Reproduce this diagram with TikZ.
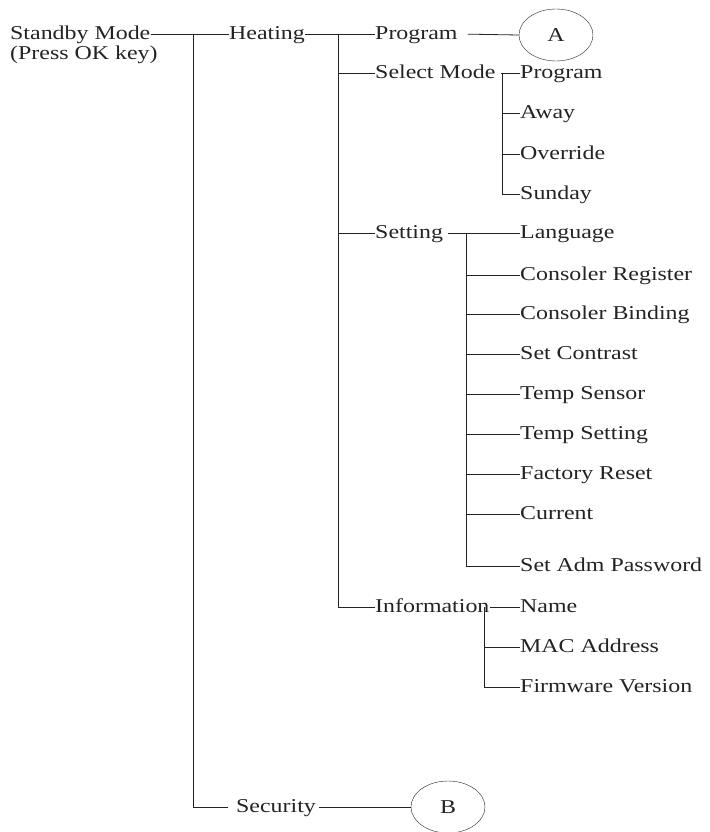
\documentclass[tikz,border=0pt]{standalone}
\usepackage{fontspec}
\setmainfont{Liberation Serif}[FakeStretch=1.22]
\usepackage{xcolor}
\definecolor{inkgrey}{RGB}{35, 35, 35}
\usepackage{tikz}
\usetikzlibrary{positioning, shapes.geometric}

\tikzset{
    item/.style={anchor=west, inner xsep=0pt, inner ysep=0pt, text height=15pt, text depth=4.5pt,
        font=\fontsize{19.6pt}{23pt}\selectfont, text=inkgrey},
    marker/.style={ellipse, draw, inkgrey, minimum width=74pt, minimum height=52pt, inner sep=0pt,
        font=\fontsize{19.6pt}{23pt}\selectfont},
    wire/.style={draw=inkgrey, line width=0.8pt}
}

\begin{document}
\begin{tikzpicture}[x=1pt, y=-1pt]
    \useasboundingbox (0,0) rectangle (709,832);

    % first level
    \node[item] (standby) at (10,34) {Standby Mode};
    \node[item, below right=0pt and 0pt of standby.south west] (presskey) {(Press OK key)};
    \node[item] (heating) at (229,34) {Heating};
    \node[item] (security) at (236,807) {Security};
    \node[marker] (B) at (448,807) {B};

    % heating menu
    \node[item] (program) at (375,34) {Program};
    \node[marker] (A) at (556,35) {A};
    \node[item] (selmode) at (375,73) {Select Mode};
    \node[item] (setting) at (375,233) {Setting};
    \node[item] (information) at (375,607) {Information};

    % select mode
    \node[item] (modeprog) at (520,73) {Program};
    \node[item] (away) at (520,113) {Away};
    \node[item] (override) at (520,154) {Override};
    \node[item] (sunday) at (520,194) {Sunday};

    % setting
    \node[item] (language) at (520,233) {Language};
    \node[item] (register) at (520,275) {Consoler Register};
    \node[item] (binding) at (520,314) {Consoler Binding};
    \node[item] (contrast) at (520,354) {Set Contrast};
    \node[item] (sensor) at (520,394) {Temp Sensor};
    \node[item] (tempset) at (520,434) {Temp Setting};
    \node[item] (reset) at (520,474) {Factory Reset};
    \node[item] (current) at (520,514) {Current};
    \node[item] (password) at (520,566) {Set Adm Password};

    % information
    \node[item] (name) at (520,607) {Name};
    \node[item] (mac) at (520,647) {MAC Address};
    \node[item] (firmware) at (520,687) {Firmware Version};

    % trunks
    \coordinate (mainbar) at (193,34);
    \coordinate (heatbar) at (338,34);
    \coordinate (modebar) at (502,73);
    \coordinate (setbar) at (466,233);
    \coordinate (infobar) at (484,607);

    \draw[wire] (standby.east) -- (heating.west);
    \draw[wire, shorten >=8pt] (mainbar) |- (security.west);
    \draw[wire, shorten <=3pt] (security.east) -- (B.west);

    \draw[wire] (heating.east) -- (program.west);
    \draw[wire, shorten <=10pt] (program.east) -- (A.west);
    \draw[wire] (heatbar) |- (selmode.west);
    \draw[wire] (heatbar) |- (setting.west);
    \draw[wire] (heatbar) |- (information.west);

    \draw[wire, shorten <=5pt] (selmode.east) -- (modeprog.west);
    \draw[wire] (modebar) |- (away.west);
    \draw[wire] (modebar) |- (override.west);
    \draw[wire] (modebar) |- (sunday.west);

    \draw[wire, shorten <=5pt] (setting.east) -- (language.west);
    \draw[wire] (setbar) |- (register.west);
    \draw[wire] (setbar) |- (binding.west);
    \draw[wire] (setbar) |- (contrast.west);
    \draw[wire] (setbar) |- (sensor.west);
    \draw[wire] (setbar) |- (tempset.west);
    \draw[wire] (setbar) |- (reset.west);
    \draw[wire] (setbar) |- (current.west);
    \draw[wire] (setbar) |- (password.west);

    \draw[wire] (information.east) -- (name.west);
    \draw[wire] (infobar) |- (mac.west);
    \draw[wire] (infobar) |- (firmware.west);
\end{tikzpicture}
\end{document}
